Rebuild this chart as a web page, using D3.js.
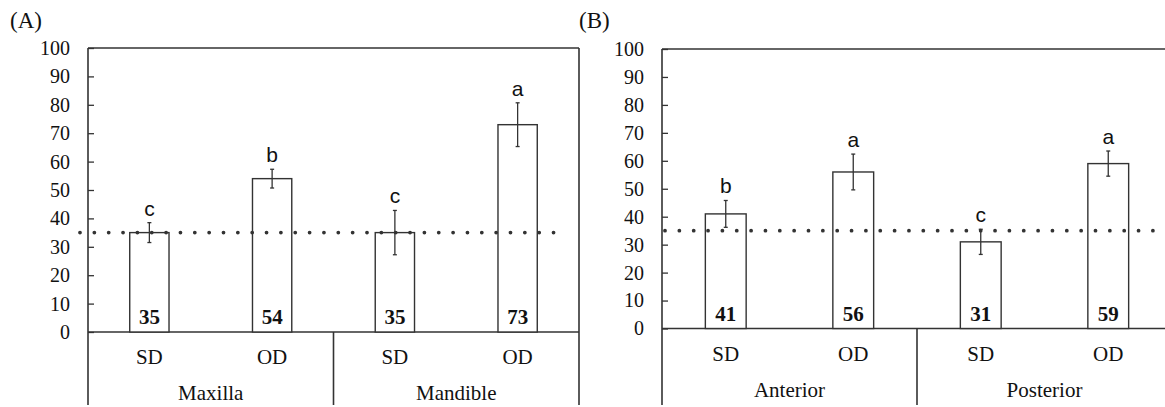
<!DOCTYPE html>
<html>
<head>
<meta charset="utf-8">
<script src="https://cdn.jsdelivr.net/npm/d3@7"></script>
<style>
  body { margin: 0; background: #fff; }
  svg { display: block; }
  .serif { font-family: "Liberation Serif", "Times New Roman", serif; }
  .sans { font-family: "Liberation Sans", Arial, sans-serif; }
</style>
</head>
<body>
<svg width="1165" height="407"></svg>
<script>
// data
const conditions = ["SD", "OD"];
const groupsA = ["Maxilla", "Mandible"];
const valuesA = [35, 54, 35, 73];
const errorsA = [3.5, 3.3, 7.8, 7.7];
const lettersA = ["c", "b", "c", "a"];

const groupsB = ["Anterior", "Posterior"];
const valuesB = [41, 56, 31, 59];
const errorsB = [4.8, 6.4, 4.5, 4.5];
const lettersB = ["b", "a", "c", "a"];

const yTicks = [0, 10, 20, 30, 40, 50, 60, 70, 80, 90, 100];
const refValue = 35;

const ink = "#333";
const svg = d3.select("svg");

const drawPanel = (opt) => {
  const cats = [];
  opt.groups.forEach((g) => conditions.forEach((c) => cats.push(g + "|" + c)));
  const rows = cats.map((k, i) => ({
    key: k,
    group: k.split("|")[0],
    cond: k.split("|")[1],
    value: opt.values[i],
    err: opt.errors[i],
    letter: opt.letters[i],
  }));

  const x = d3.scaleBand().domain(cats).range([opt.x0, opt.x1])
    .paddingInner(0.68).paddingOuter(0.34);
  const y = d3.scaleLinear().domain([0, 100]).range([opt.yBase, opt.yTop]);
  const step = x.step();
  const g = svg.append("g");

  // panel tag
  g.append("text").attr("class", "serif")
    .attr("x", opt.tagX).attr("y", 28)
    .attr("font-size", 23).attr("fill", "#111")
    .text(opt.tag);

  // y axis, ticks point inward
  const ax = g.append("g").attr("transform", `translate(${opt.x0},0)`)
    .call(d3.axisLeft(y).tickValues(yTicks).tickSize(-6).tickPadding(18));
  ax.select(".domain").remove();
  ax.selectAll(".tick line").attr("stroke", ink).attr("stroke-width", 1.3);
  ax.selectAll(".tick text").attr("class", "serif")
    .attr("font-size", 20).attr("fill", "#111");

  // frame lines
  const line = (x1, y1, x2, y2) => g.append("line")
    .attr("x1", x1).attr("y1", y1).attr("x2", x2).attr("y2", y2)
    .attr("stroke", ink).attr("stroke-width", 1.6);
  line(opt.x0, y(100), opt.x1, y(100));
  line(opt.x0, y(100), opt.x0, opt.yBottom);
  line(opt.x0, y(0), opt.x1, y(0));
  line(opt.x1, y(100), opt.x1, opt.yBottom);
  line(opt.x0 + step * 2, y(0), opt.x0 + step * 2, opt.yBottom);

  // bars
  g.selectAll("rect.bar").data(rows).enter().append("rect")
    .attr("class", "bar")
    .attr("x", (d) => x(d.key))
    .attr("y", (d) => y(d.value))
    .attr("width", x.bandwidth())
    .attr("height", (d) => y(0) - y(d.value))
    .attr("fill", "#fff").attr("stroke", ink).attr("stroke-width", 1.4);

  // reference dotted line
  g.append("line")
    .attr("x1", opt.refFrom).attr("x2", opt.refTo)
    .attr("y1", y(refValue)).attr("y2", y(refValue))
    .attr("stroke", ink).attr("stroke-width", 3.8)
    .attr("stroke-linecap", "round")
    .attr("stroke-dasharray", "0 14.35");

  // error bars
  const cx = (d) => x(d.key) + x.bandwidth() / 2;
  const eb = g.selectAll("g.err").data(rows).enter().append("g").attr("class", "err")
    .attr("stroke", ink).attr("stroke-width", 1.3);
  eb.append("line").attr("x1", cx).attr("x2", cx)
    .attr("y1", (d) => y(d.value + d.err)).attr("y2", (d) => y(d.value - d.err));
  eb.append("line").attr("x1", (d) => cx(d) - 2).attr("x2", (d) => cx(d) + 2)
    .attr("y1", (d) => y(d.value + d.err)).attr("y2", (d) => y(d.value + d.err));
  eb.append("line").attr("x1", (d) => cx(d) - 2).attr("x2", (d) => cx(d) + 2)
    .attr("y1", (d) => y(d.value - d.err)).attr("y2", (d) => y(d.value - d.err));

  // significance letters
  g.selectAll("text.letter").data(rows).enter().append("text")
    .attr("class", "sans")
    .attr("x", cx).attr("y", (d) => y(d.value + d.err) - 7)
    .attr("text-anchor", "middle").attr("font-size", 21).attr("fill", "#111")
    .text((d) => d.letter);

  // value labels
  g.selectAll("text.val").data(rows).enter().append("text")
    .attr("class", "serif")
    .attr("x", cx).attr("y", y(0) - 8)
    .attr("text-anchor", "middle").attr("font-size", 21)
    .attr("font-weight", "bold").attr("fill", "#111")
    .text((d) => d.value);

  // category labels
  g.selectAll("text.cond").data(rows).enter().append("text")
    .attr("class", "serif")
    .attr("x", cx).attr("y", y(0) + 32)
    .attr("text-anchor", "middle").attr("font-size", 21).attr("fill", "#111")
    .text((d) => d.cond);

  g.selectAll("text.grp").data(opt.groups).enter().append("text")
    .attr("class", "serif")
    .attr("x", (d, i) => opt.x0 + step * (2 * i + 1))
    .attr("y", y(0) + 68)
    .attr("text-anchor", "middle").attr("font-size", 21).attr("fill", "#111")
    .text((d) => d);
};

drawPanel({
  tag: "(A)", tagX: 10,
  groups: groupsA, values: valuesA, errors: errorsA, letters: lettersA,
  x0: 88, x1: 579, yBase: 332, yTop: 48, yBottom: 405,
  refFrom: 80, refTo: 556,
});

drawPanel({
  tag: "(B)", tagX: 579,
  groups: groupsB, values: valuesB, errors: errorsB, letters: lettersB,
  x0: 662, x1: 1172, yBase: 328.5, yTop: 49, yBottom: 405,
  refFrom: 665, refTo: 1172,
});
</script>
</body>
</html>
